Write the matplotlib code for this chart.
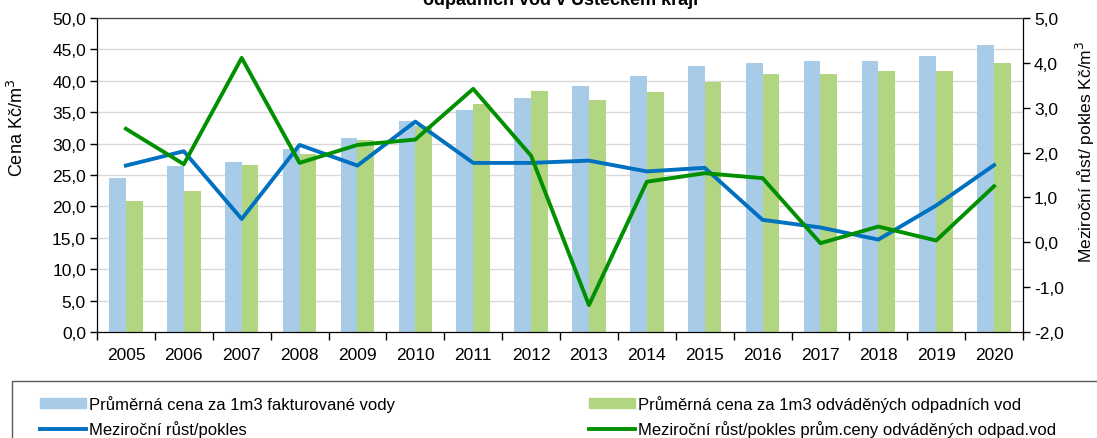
import matplotlib
matplotlib.use("Agg")
from matplotlib import pyplot as plt
from matplotlib.patches import Rectangle, Patch
from matplotlib.lines import Line2D
from matplotlib.ticker import FuncFormatter, FixedLocator
import numpy as np

plt.rcParams['font.family'] = ['Liberation Sans', 'DejaVu Sans']

roky = ["2005", "2006", "2007", "2008", "2009", "2010", "2011", "2012",
        "2013", "2014", "2015", "2016", "2017", "2018", "2019", "2020"]
cena_voda = [24.6, 26.5, 27.1, 29.2, 30.9, 33.6, 35.4, 37.2,
             39.1, 40.7, 42.3, 42.8, 43.2, 43.2, 44.0, 45.7]
cena_odpad = [20.8, 22.5, 26.6, 28.4, 30.6, 32.8, 36.3, 38.3,
              36.9, 38.2, 39.8, 41.1, 41.1, 41.5, 41.6, 42.8]
rust_voda = [1.71, 2.03, 0.52, 2.17, 1.71, 2.69, 1.77, 1.77,
             1.82, 1.58, 1.66, 0.50, 0.33, 0.06, 0.82, 1.72]
rust_odpad = [2.53, 1.74, 4.11, 1.77, 2.17, 2.29, 3.42, 1.93,
              -1.40, 1.35, 1.54, 1.43, -0.02, 0.35, 0.04, 1.25]

nazvy = ["Průměrná cena za 1m3 fakturované vody",
         "Průměrná cena za 1m3 odváděných odpadních vod",
         "Meziroční růst/pokles",
         "Meziroční růst/pokles prům.ceny odváděných odpad.vod"]

barva_voda = '#A8CCE8'
barva_odpad = '#B2D582'
barva_cara1 = '#0070C0'
barva_cara2 = '#009000'

W, H = 1097, 439
fig = plt.figure(figsize=(W / 100, H / 100), dpi=100)
ax = fig.add_axes([97 / W, 1 - 333 / H, (1023 - 97) / W, (333 - 19) / H])

x = np.arange(len(roky))
sirka = 0.29
ax.bar(x - sirka / 2, cena_voda, width=sirka, color=barva_voda, zorder=2)
ax.bar(x + sirka / 2, cena_odpad, width=sirka, color=barva_odpad, zorder=2)

ax.set_xlim(-0.5, len(roky) - 0.5)
ax.set_ylim(0, 50)
ax.set_yticks(np.arange(0, 51, 5))
ax.yaxis.grid(True, color='#D9D9D9', linewidth=1)
ax.set_axisbelow(True)
ax.yaxis.set_major_formatter(FuncFormatter(lambda v, p: ('%.1f' % v).replace('.', ',')))

ax.set_xticks(x)
ax.set_xticklabels(roky)
ax.xaxis.set_minor_locator(FixedLocator(np.arange(-0.5, len(roky), 1.0)))
ax.tick_params(axis='x', which='major', length=0, pad=11, labelsize=12.5)
ax.tick_params(axis='x', which='minor', length=6, width=1, direction='out')
ax.tick_params(axis='y', length=5, width=1, direction='out', labelsize=12.5, pad=3)

for s in ['left', 'bottom', 'right']:
    ax.spines[s].set_color('black')
ax.spines['top'].set_color('#404040')

ax2 = ax.twinx()
ax2.plot(x, rust_voda, color=barva_cara1, linewidth=2.8, zorder=3)
ax2.plot(x, rust_odpad, color=barva_cara2, linewidth=2.8, zorder=4)
ax2.set_ylim(-2, 5)
ax2.set_yticks(np.arange(-2, 5.1, 1))
ax2.yaxis.set_major_formatter(FuncFormatter(lambda v, p: ('%.1f' % v).replace('.', ',')))
ax2.tick_params(axis='y', length=5, width=1, direction='out', labelsize=12.5, pad=3)
for s in ['left', 'bottom', 'right']:
    ax2.spines[s].set_color('black')
ax2.spines['top'].set_color('#404040')

fig.text(17 / W, 1 - 128 / H, "Cena Kč/m$^3$", rotation=90, fontsize=13,
         ha='center', va='center')
fig.text(1085 / W, 1 - 152 / H, "Meziroční růst/ pokles Kč/m$^3$", rotation=90,
         fontsize=12.5, ha='center', va='center')

# titulek je nahore oriznuty
fig.text(561 / W, 1 - 5 / H, "odpadních vod v Ústeckém kraji", fontsize=13,
         fontweight='bold', ha='center', va='baseline')

# legenda
h1 = Patch(color=barva_voda)
h2 = Patch(color=barva_odpad)
h3 = Line2D([], [], color=barva_cara1, linewidth=2.8)
h4 = Line2D([], [], color=barva_cara2, linewidth=2.8)
leg1 = fig.legend([h1, h3], [nazvy[0], nazvy[2]], loc='upper left',
                  bbox_to_anchor=(40 / W, 1 - 396 / H), frameon=False,
                  borderpad=0, borderaxespad=0, handlelength=2.75,
                  handleheight=0.55, handletextpad=0.2, labelspacing=0.5, fontsize=12)
leg2 = fig.legend([h2, h4], [nazvy[1], nazvy[3]], loc='upper left',
                  bbox_to_anchor=(589 / W, 1 - 396 / H), frameon=False,
                  borderpad=0, borderaxespad=0, handlelength=2.75,
                  handleheight=0.55, handletextpad=0.2, labelspacing=0.5, fontsize=12)
fig.patches.append(Rectangle((12 / W, -0.1), 1.2, 0.1 + (1 - 382 / H),
                             transform=fig.transFigure, fill=False,
                             edgecolor='#595959', linewidth=1))

fig.savefig("out.png", dpi=100)
